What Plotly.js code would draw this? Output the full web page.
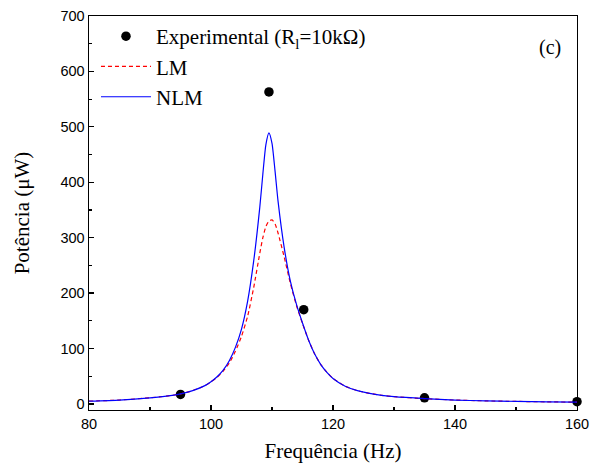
<!DOCTYPE html>
<html>
<head>
<meta charset="utf-8">
<script src="https://cdn.plot.ly/plotly-3.0.1.min.js"></script>
<style>html,body{margin:0;padding:0;background:#fff;}#chart{width:590px;height:468px;}</style>
</head>
<body>
<div id="chart"></div>
<script>
// Experimental points
var expFreq = [95, 109.5, 115.2, 135, 160];
var expPower = [17, 563, 170, 11, 4];

// Model curves
var modelFreq = [80, 85, 90, 93, 95, 97, 99, 100, 101, 102, 103, 104, 105, 106, 107, 108, 108.5, 109, 109.5, 110, 110.5, 111, 112, 113, 114, 115, 116, 117, 118, 119, 120, 122, 124, 126, 128, 130, 135, 140, 145, 150, 155, 160];
var lmPower  = [5, 7, 11, 14.5, 18, 24, 33, 40, 48, 59, 74, 95, 122, 158, 210, 272, 300, 320, 330, 332, 325, 308, 265, 218, 178, 145, 115, 90, 71, 57, 46, 32, 24, 19, 15.5, 13, 9.5, 7, 5.5, 4.5, 3.7, 3.2];
var nlmPower = [5, 7, 11, 14.5, 18, 24, 33, 40, 49, 61, 78, 102, 135, 185, 258, 355, 415, 468, 489, 470, 420, 365, 282, 222, 180, 146, 115, 90, 71, 57, 46, 32, 24, 19, 15.5, 13, 9.5, 7, 5.5, 4.5, 3.7, 3.2];

var xTicks = [80, 100, 120, 140, 160];
var yTicks = [0, 100, 200, 300, 400, 500, 600, 700];

var serif = 'Liberation Serif, Times New Roman, serif';
var sans = 'Liberation Sans, Arial, sans-serif';

var traces = [
  {x: expFreq, y: expPower, mode: 'markers', type: 'scatter', name: 'Experimental (R<sub>l</sub>=10kΩ)',
   marker: {color: '#000', size: 9.5, symbol: 'circle'}, cliponaxis: false},
  {x: modelFreq, y: lmPower, mode: 'lines', type: 'scatter', name: 'LM',
   line: {color: '#ff0000', width: 1.2, dash: '4px,3px', shape: 'spline', smoothing: 0.6}},
  {x: modelFreq, y: nlmPower, mode: 'lines', type: 'scatter', name: 'NLM',
   line: {color: '#0000ff', width: 1.2, shape: 'spline', smoothing: 0.6}}
];

var layout = {
  width: 590, height: 468,
  margin: {l: 89, r: 13, t: 16, b: 58},
  paper_bgcolor: '#fff', plot_bgcolor: '#fff',
  showlegend: true,
  legend: {x: 0.0143, y: 1.0, xanchor: 'left', yanchor: 'top', bgcolor: 'rgba(0,0,0,0)',
           font: {family: serif, size: 21, color: '#000'}, itemwidth: 50, tracegroupgap: 0,
           traceorder: 'normal'},
  xaxis: {
    range: [80, 160], tickvals: xTicks, ticktext: xTicks.map(String),
    ticks: 'inside', ticklen: 5, tickwidth: 1.3, tickcolor: '#000',
    minor: {dtick: 10, tick0: 80, ticks: 'inside', ticklen: 3, tickwidth: 1.1, tickcolor: '#000', showgrid: false},
    showline: true, linecolor: '#000', linewidth: 1.4, mirror: true,
    showgrid: false, zeroline: false,
    tickfont: {family: sans, size: 14.5, color: '#000'},
    title: {text: 'Frequência (Hz)', font: {family: serif, size: 21, color: '#000'}, standoff: 12}
  },
  yaxis: {
    range: [-11, 700], tickvals: yTicks, ticktext: yTicks.map(String),
    ticks: 'inside', ticklen: 5, tickwidth: 1.3, tickcolor: '#000',
    minor: {dtick: 50, tick0: 0, ticks: 'inside', ticklen: 3, tickwidth: 1.1, tickcolor: '#000', showgrid: false},
    showline: true, linecolor: '#000', linewidth: 1.4, mirror: true,
    showgrid: false, zeroline: false,
    tickfont: {family: sans, size: 14.5, color: '#000'},
    title: {text: 'Potência (μW)', font: {family: serif, size: 21, color: '#000'}, standoff: 25}
  },
  annotations: [
    {text: '(c)', xref: 'paper', yref: 'paper', x: 0.945, y: 0.92, xanchor: 'center', yanchor: 'middle',
     showarrow: false, font: {family: serif, size: 20, color: '#000'}}
  ]
};

Plotly.newPlot('chart', traces, layout, {displayModeBar: false, staticPlot: true});
</script>
</body>
</html>
